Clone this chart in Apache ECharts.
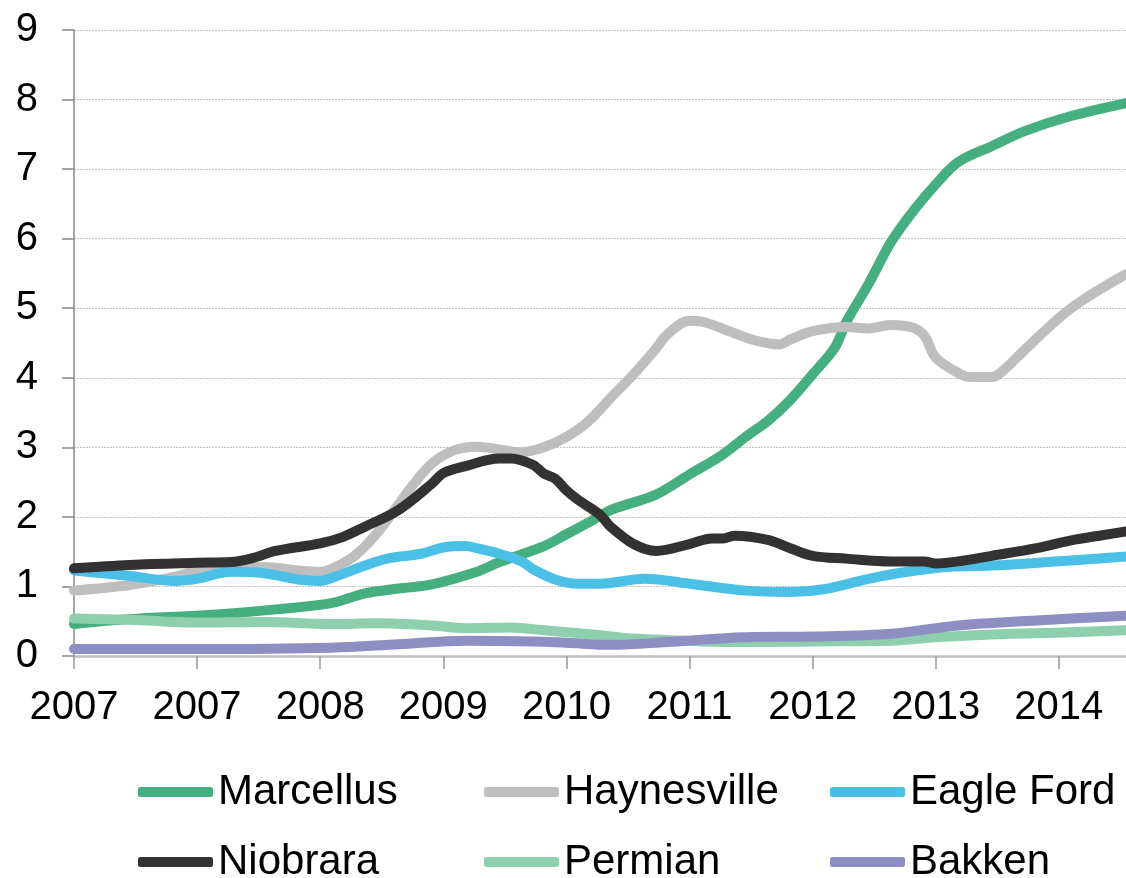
<!DOCTYPE html>
<html>
<head>
<meta charset="utf-8">
<script src="https://cdn.jsdelivr.net/npm/echarts@6/dist/echarts.min.js"></script>
<style>
  html, body { margin: 0; padding: 0; background: #fff; }
  #chart { width: 1126px; height: 878px; }
</style>
</head>
<body>
<div id="chart"></div>
<script>
// months counted from Jan 2007, tick every 11 months
const xTickLabels = ['2007', '2007', '2008', '2009', '2010', '2011', '2012', '2013', '2014'];
const seriesNames = ['Marcellus', 'Haynesville', 'Eagle Ford', 'Niobrara', 'Permian', 'Bakken'];

const marcellusMonths = [0, 5, 12, 18, 23, 26, 29, 32, 36, 38, 42, 44, 46, 48, 52, 55, 58, 60, 62, 64, 66, 68, 69, 71, 73, 75, 77, 79, 82, 85, 89, 94];
const marcellusValues = [0.46, 0.53, 0.59, 0.67, 0.76, 0.90, 0.97, 1.03, 1.21, 1.35, 1.58, 1.75, 1.92, 2.10, 2.32, 2.61, 2.90, 3.15, 3.38, 3.68, 4.05, 4.44, 4.80, 5.35, 5.95, 6.40, 6.78, 7.10, 7.33, 7.55, 7.76, 7.95];

const haynesvilleMonths = [0, 5, 9, 12, 17, 20, 22, 23, 25, 27, 29, 30, 32, 34, 36, 38, 40, 42, 44, 46, 48, 50, 52, 53, 55, 56, 59, 61, 63, 64, 66, 69, 71, 73, 75, 76, 77, 79, 80, 82, 83, 85, 89, 94];
const haynesvilleValues = [0.94, 1.02, 1.14, 1.26, 1.28, 1.23, 1.21, 1.25, 1.43, 1.75, 2.18, 2.40, 2.77, 2.96, 3.01, 2.97, 2.93, 3.00, 3.15, 3.38, 3.72, 4.05, 4.42, 4.62, 4.82, 4.81, 4.64, 4.53, 4.48, 4.55, 4.67, 4.73, 4.71, 4.76, 4.72, 4.60, 4.29, 4.07, 4.01, 4.01, 4.10, 4.41, 4.99, 5.49];

const eagleFordMonths = [0, 5, 9, 11, 14, 17, 20, 22, 23, 26, 28, 31, 33, 35, 36, 38, 40, 41, 43, 45, 47, 51, 55, 60, 64, 67, 71, 74, 78, 82, 87, 94];
const eagleFordValues = [1.23, 1.15, 1.08, 1.11, 1.21, 1.19, 1.10, 1.08, 1.12, 1.30, 1.40, 1.47, 1.56, 1.58, 1.55, 1.47, 1.36, 1.25, 1.10, 1.04, 1.04, 1.11, 1.04, 0.94, 0.92, 0.96, 1.11, 1.20, 1.28, 1.30, 1.35, 1.43];

const niobraraMonths = [0, 5, 11, 14, 16, 18, 22, 24, 26, 29, 32, 33, 35, 38, 39, 41, 42, 43, 44, 45, 47, 48, 50, 52, 55, 57, 58, 59, 62, 64, 66, 69, 73, 76, 77, 79, 82, 86, 89, 92, 94];
const niobraraValues = [1.26, 1.31, 1.34, 1.35, 1.41, 1.51, 1.62, 1.71, 1.86, 2.10, 2.48, 2.63, 2.73, 2.84, 2.84, 2.75, 2.62, 2.55, 2.38, 2.25, 2.03, 1.85, 1.61, 1.51, 1.61, 1.69, 1.69, 1.73, 1.67, 1.55, 1.44, 1.40, 1.36, 1.36, 1.33, 1.36, 1.44, 1.55, 1.66, 1.74, 1.79];

const permianMonths = [0, 5, 11, 17, 23, 27, 32, 35, 39, 42, 44, 47, 50, 56, 60, 66, 73, 77, 82, 89, 94];
const permianValues = [0.54, 0.52, 0.48, 0.49, 0.46, 0.47, 0.44, 0.40, 0.41, 0.37, 0.34, 0.30, 0.25, 0.21, 0.20, 0.21, 0.22, 0.27, 0.31, 0.34, 0.37];

const bakkenMonths = [0, 11, 23, 29, 35, 41, 44, 48, 53, 60, 66, 73, 79, 86, 94];
const bakkenValues = [0.10, 0.10, 0.12, 0.17, 0.22, 0.21, 0.19, 0.16, 0.20, 0.27, 0.28, 0.32, 0.44, 0.51, 0.58];

const colors = ['#46af7f', '#bfbebf', '#4bc0e6', '#333132', '#8ed0ae', '#8e8ec2'];

function pairs(months, values) {
  return months.map((m, i) => [m, values[i]]);
}

const chart = echarts.init(document.getElementById('chart'));
const font = 'Liberation Sans, Arial, sans-serif';

const allData = [
  pairs(marcellusMonths, marcellusValues),
  pairs(haynesvilleMonths, haynesvilleValues),
  pairs(eagleFordMonths, eagleFordValues),
  pairs(niobraraMonths, niobraraValues),
  pairs(permianMonths, permianValues),
  pairs(bakkenMonths, bakkenValues)
];

// legend laid out as 3 columns x 2 rows
const legendLeft = [138, 484, 830];
const legendTop = [771, 841];

const option = {
  animation: false,
  color: colors,
  textStyle: { fontFamily: font },
  grid: { left: 74, right: 0, top: 30, bottom: 222, containLabel: false },
  legend: seriesNames.map((name, i) => ({
    data: [name],
    left: legendLeft[i % 3],
    top: legendTop[Math.floor(i / 3)],
    icon: 'roundRect',
    itemWidth: 75,
    itemHeight: 10,
    padding: 0,
    selectedMode: false,
    textStyle: { fontSize: 42, color: '#000', fontFamily: font, padding: [0, 0, 0, 0] }
  })),
  xAxis: {
    type: 'value',
    min: 0,
    max: 94,
    interval: 11,
    axisLine: { lineStyle: { color: '#bfbfbf', width: 2.5 } },
    axisTick: { show: true, length: 13, lineStyle: { color: '#999', width: 1.5 } },
    splitLine: { show: false },
    axisLabel: {
      showMaxLabel: false,
      fontSize: 40,
      color: '#000',
      margin: 32,
      formatter: v => xTickLabels[Math.round(v / 11)] || ''
    }
  },
  yAxis: {
    type: 'value',
    min: 0,
    max: 9,
    interval: 1,
    axisLine: { show: true, lineStyle: { color: '#888', width: 1.5 } },
    axisTick: { show: true, length: 12, lineStyle: { color: '#888', width: 1.5 } },
    splitLine: { lineStyle: { color: '#c4c4c4', type: [2, 1], width: 1 } },
    axisLabel: { fontSize: 40, color: '#000', margin: 36 }
  },
  series: seriesNames.map((name, i) => ({
    name: name,
    type: 'line',
    data: allData[i],
    showSymbol: false,
    symbol: 'none',
    smooth: 0.35,
    lineStyle: { width: 10, color: colors[i], cap: 'round', join: 'round' },
    itemStyle: { color: colors[i] }
  }))
};

chart.setOption(option);
</script>
</body>
</html>
